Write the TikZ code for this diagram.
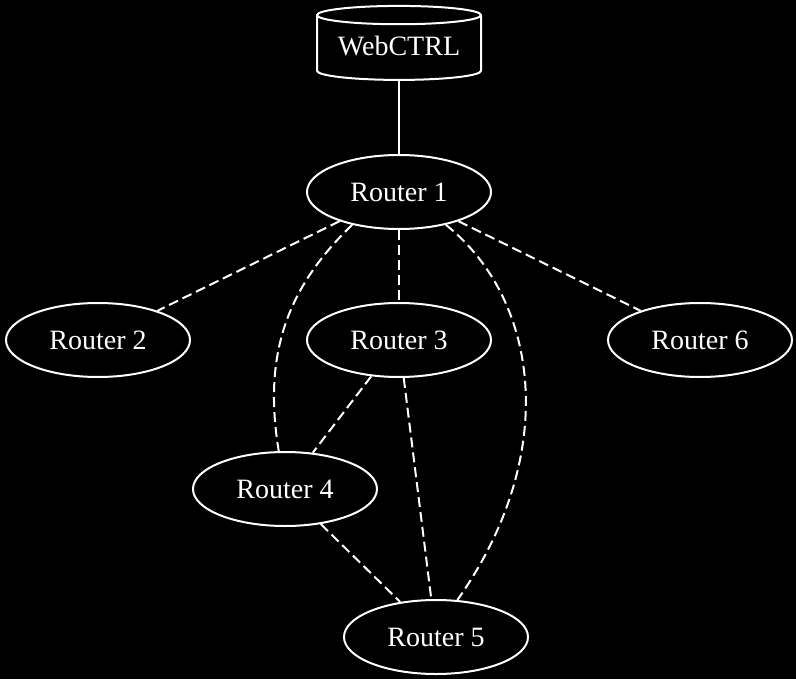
\documentclass[tikz,border=0pt]{standalone}
\usepackage{fontspec}
\setmainfont{Liberation Serif}
\usetikzlibrary{shapes.geometric}

\begin{document}
\begin{tikzpicture}[x=0.5pt, y=-0.5pt,
    router/.style={ellipse, draw=white, line width=1pt, text=white,
        minimum width=92pt, minimum height=37pt, inner sep=0pt,
        font=\fontsize{14}{16}\selectfont},
    link/.style={draw=white, line width=1pt, dash pattern=on 5pt off 2.5pt}]
    % Background
    \fill[black] (0,0) rectangle (796,679);
    \useasboundingbox (0,0) rectangle (796,679);

    % Controller
    \node[cylinder, shape border rotate=90, aspect=0.15, draw=white, line width=1pt,
        text=white, minimum width=82pt, minimum height=37pt, inner sep=0pt,
        font=\fontsize{14}{16}\selectfont] (web) at (399,48) {\raisebox{2pt}{WebCTRL}};

    % Routers
    \node[router] (r1) at (399,192) {Router 1};
    \node[router] (r2) at (98,340) {Router 2};
    \node[router] (r3) at (399,340) {Router 3};
    \node[router] (r6) at (700,340) {Router 6};
    \node[router] (r4) at (285,489) {Router 4};
    \node[router] (r5) at (436,637) {Router 5};

    % Links
    \draw[white, line width=1pt] (web) -- (r1);
    \draw[link] (r1) -- (r2);
    \draw[link] (r1) -- (r3);
    \draw[link] (r1) -- (r6);
    \draw[link] (r1.-145) .. controls (290,285) and (262,350) .. (r4);
    \draw[link] (r1.-35) .. controls (540,300) and (560,455) .. (r5.60);
    \draw[link] (r3) -- (r4);
    \draw[link] (r3) -- (r5);
    \draw[link] (r4) -- (r5);
\end{tikzpicture}
\end{document}
